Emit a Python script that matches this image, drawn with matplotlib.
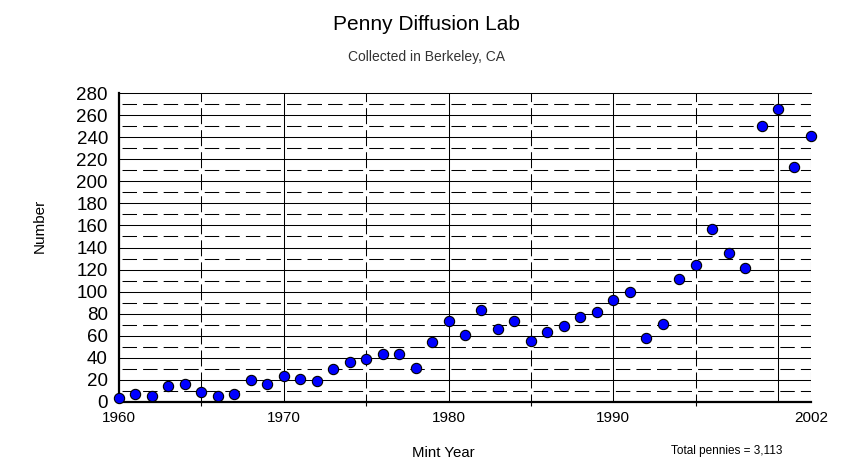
import numpy as np
import matplotlib
matplotlib.use('Agg')
import matplotlib.pyplot as plt

# data
years = np.arange(1960, 2003)
counts = [3, 7, 5, 14, 16, 9, 5, 7, 20, 16,
          23, 21, 19, 30, 36, 39, 43, 43, 31, 54,
          73, 61, 83, 66, 73, 55, 63, 69, 77, 81,
          92, 100, 58, 71, 111, 124, 157, 135, 121, 250,
          266, 213, 241]

x_ticks = [1960, 1970, 1980, 1990, 2002]
x_labels = ['1960', '1970', '1980', '1990', '2002']
x_minor = [1965, 1975, 1985, 1995]
x_solid = [1970, 1980, 1990, 2000]
x_dashed = [1965, 1975, 1985, 1995, 2002]
y_ticks = list(range(0, 281, 20))
y_solid = list(range(20, 280, 20))
y_dashed = list(range(10, 280, 20))

plt.rcParams['font.family'] = ['Liberation Sans', 'DejaVu Sans']
plt.rcParams['lines.scale_dashes'] = False

fig = plt.figure(figsize=(8.55, 4.71), dpi=100)
ax = fig.add_axes([0.1392, 0.1471, 0.8093, 0.6548])
ax.set_xlim(1960, 2002)
ax.set_ylim(0, 280)

# grid
for y in y_solid:
    ax.axhline(y, color='black', lw=0.75, zorder=1)
for y in y_dashed:
    ax.axhline(y, color='black', lw=0.75, linestyle=(12.6, (10.4, 4.4)), zorder=1)
for x in x_solid:
    ax.axvline(x, color='black', lw=0.75, zorder=1)
for x in x_dashed:
    ax.axvline(x, color='black', lw=0.75, linestyle=(5.76, (11.5, 4.36)), zorder=1)

ax.plot(years, counts, 'o', ms=7.4, mfc='#0000ff', mec='black', mew=0.8,
        clip_on=False, zorder=5)

ax.spines['right'].set_visible(False)
ax.spines['top'].set_linewidth(0.75)
ax.spines['left'].set_linewidth(1.6)
ax.spines['bottom'].set_linewidth(1.6)

ax.set_xticks(x_ticks)
ax.set_xticklabels(x_labels)
ax.set_xticks(x_minor, minor=True)
ax.set_yticks(y_ticks)
ax.tick_params(axis='x', which='major', length=0, pad=7, labelsize=11)
ax.tick_params(axis='x', which='minor', length=3, width=0.8, direction='out')
ax.tick_params(axis='y', which='major', length=0, pad=8, labelsize=13.5)

fig.text(0.4982, 0.936, 'Penny Diffusion Lab', ha='center', va='baseline', fontsize=15)
fig.text(0.4994, 0.8705, 'Collected in Berkeley, CA', ha='center', va='baseline',
         fontsize=10, color='#333333')
fig.text(0.0468, 0.520, 'Number', rotation=90, ha='center', va='center', fontsize=11)
fig.text(0.519, 0.0304, 'Mint Year', ha='center', va='baseline', fontsize=10.8)
fig.text(0.850, 0.036, 'Total pennies = 3,113', ha='center', va='baseline', fontsize=8.5)

fig.savefig('out.png', dpi=100)
